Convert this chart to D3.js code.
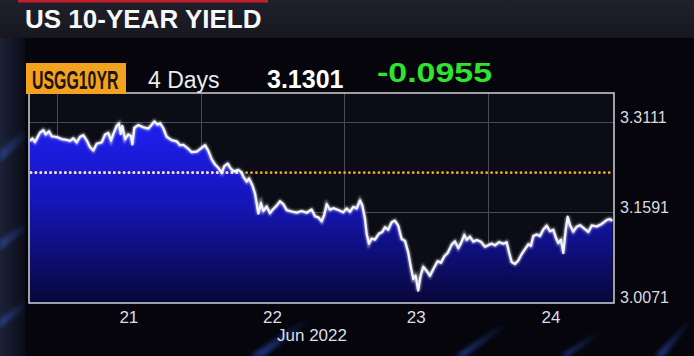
<!DOCTYPE html>
<html>
<head>
<meta charset="utf-8">
<script src="https://cdn.jsdelivr.net/npm/d3@7"></script>
<style>
  html, body { margin: 0; padding: 0; background: #06060c; }
  #mydiv { width: 694px; height: 356px; overflow: hidden; }
</style>
</head>
<body>
<div id="mydiv"></div>
<script>
// hours after 21 Jun 2022 00:00
const hours = [
  -4.51,-4.12,-3.68,-2.84,-2.29,-1.89,-1.34,-0.89,-0.05,0.79,1.62,2.17,2.72,3.29,3.84,4.39,4.96,5.51,6.07,
  6.63,7.47,8.02,8.57,9.02,9.41,9.98,10.36,10.64,10.91,11.36,11.91,12.36,12.58,12.92,13.58,14.42,15.25,15.82,
  16.25,16.82,17.21,17.76,18.32,19.16,20.00,
  20.55,21.10,21.94,22.50,23.34,23.89,24.73,25.28,25.85,26.40,26.95,27.52,27.95,28.52,29.07,29.62,30.29,30.86,
  31.12,31.69,32.08,32.63,33.08,33.36,33.63,34.08,34.46,35.03,35.58,36.13,36.70,37.25,37.80,38.37,39.20,40.04,
  40.87,41.71,42.54,43.10,43.65,44.22,44.65,45.05,45.60,46.15,46.99,47.82,48.39,48.94,49.49,50.06,50.61,51.00,
  51.45,51.73,52.11,
  52.56,53.11,53.78,54.33,54.78,55.33,55.90,56.45,57.00,57.57,58.12,58.67,59.12,59.51,59.91,60.34,60.74,61.18,
  61.75,62.30,62.85,63.59,64.14,64.70,65.26,65.93,66.48,67.03,67.49,68.04,68.44,68.99,69.54,70.11,70.83,71.50,
  72.05,72.62,73.17,73.84,74.55,75.12,75.51,75.96,76.51,77.06,77.63,78.18,78.73,79.18,79.57,80.13,80.68,81.24,
  81.80,82.35,82.91,83.36,83.74,84.19,84.58,84.98,85.31,85.70,86.25,86.82,87.37,88.09,88.76,89.33,90.16,91.00,
  91.83,92.38,92.77
];

const yields = [
  3.2791,3.2832,3.2773,3.2932,3.2975,3.2901,3.2956,3.2870,3.2858,3.2822,3.2809,3.2791,3.2836,3.2766,3.2861,
  3.2889,3.2802,3.2687,3.2629,3.2743,3.2768,3.2899,3.2927,3.2795,3.2908,3.3049,3.3087,3.2906,3.3047,3.2819,
  3.2903,3.2873,3.2731,3.3014,3.3059,3.3023,3.2999,3.3066,3.3122,3.3065,3.3091,3.3005,3.2862,3.2804,3.2785,
  3.2718,3.2727,3.2658,3.2601,3.2611,3.2654,3.2720,3.2624,3.2481,3.2395,3.2338,3.2252,3.2365,3.2408,3.2317,
  3.2277,3.2303,3.2258,3.2189,3.2104,3.2159,3.2044,3.1903,3.1733,3.1563,3.1744,3.1607,3.1684,3.1571,3.1643,
  3.1698,3.1772,3.1725,3.1623,3.1599,3.1581,3.1607,3.1578,3.1633,3.1519,3.1501,3.1432,3.1545,3.1725,3.1628,
  3.1656,3.1626,3.1585,3.1652,3.1594,3.1678,3.1650,3.1789,3.1704,3.1478,3.1225,3.1055,
  3.1143,3.1125,3.1226,3.1252,3.1335,3.1291,3.1418,3.1446,3.1361,3.1136,3.1107,3.0909,3.0656,3.0460,3.0515,
  3.0262,3.0514,3.0665,3.0597,3.0512,3.0624,3.0762,3.0733,3.0845,3.0900,3.1040,3.1095,3.0981,3.1065,3.1205,
  3.1120,3.1175,3.1090,3.1117,3.1088,3.1003,3.1031,3.1057,3.1029,3.1083,3.1054,3.1081,3.0912,3.0744,3.0714,
  3.0771,3.0881,3.0963,3.1046,3.1019,3.1186,3.1212,3.1184,3.1294,3.1360,3.1265,3.1291,3.1151,3.1067,3.1121,
  3.0898,3.1288,3.1512,3.1370,3.1259,3.1342,3.1368,3.1311,3.1255,3.1364,3.1346,3.1390,3.1456,3.1472,3.1442
];

const yTicks = [3.0071, 3.1591, 3.3111];
const dayLabels = ['21', '22', '23', '24'];
const monthLabel = 'Jun 2022';
const prevClose = 3.2256;

const title = 'US 10-YEAR YIELD';
const ticker = 'USGG10YR';
const period = '4 Days';
const lastPrice = '3.1301';
const netChange = '-0.0955';

const t0 = new Date(2022, 5, 21);
const hToDate = h => new Date(t0.getTime() + h * 3600e3);
const data = hours.map((h, i) => ({ t: hToDate(h), v: yields[i] }));

// plot box
const L = 29, R = 614, T = 93, B = 303;
const font = "'Liberation Sans', Arial, Helvetica, sans-serif";

const svg = d3.select('#mydiv')
  .append('svg')
  .attr('width', 694)
  .attr('height', 356)
  .style('display', 'block');

const defs = svg.append('defs');

const bandGrad = defs.append('linearGradient')
  .attr('id', 'band').attr('x1', 0).attr('x2', 0).attr('y1', 0).attr('y2', 1);
bandGrad.append('stop').attr('offset', '0%').attr('stop-color', '#20202c');
bandGrad.append('stop').attr('offset', '100%').attr('stop-color', '#17171f');

const leftGrad = defs.append('linearGradient')
  .attr('id', 'leftside').attr('x1', 0).attr('x2', 1).attr('y1', 0).attr('y2', 0);
leftGrad.append('stop').attr('offset', '0%').attr('stop-color', '#1c2136');
leftGrad.append('stop').attr('offset', '100%').attr('stop-color', '#0b0d18');

const streakGrad = defs.append('linearGradient')
  .attr('id', 'streak').attr('x1', 0).attr('x2', 0).attr('y1', 1).attr('y2', 0);
streakGrad.append('stop').attr('offset', '0%').attr('stop-color', '#3a6cff').attr('stop-opacity', 0.5);
streakGrad.append('stop').attr('offset', '100%').attr('stop-color', '#3a6cff').attr('stop-opacity', 0);

const fillGrad = defs.append('linearGradient')
  .attr('id', 'fill').attr('gradientUnits', 'userSpaceOnUse')
  .attr('x1', 0).attr('x2', 0).attr('y1', 122).attr('y2', B);
fillGrad.append('stop').attr('offset', '0%').attr('stop-color', '#1f1ff2');
fillGrad.append('stop').attr('offset', '45%').attr('stop-color', '#1515b8');
fillGrad.append('stop').attr('offset', '100%').attr('stop-color', '#07073a');

defs.append('filter').attr('id', 'glow')
  .append('feGaussianBlur').attr('stdDeviation', 1.3);

defs.append('filter').attr('id', 'soft')
  .attr('x', '-50%').attr('y', '-50%').attr('width', '200%').attr('height', '200%')
  .append('feGaussianBlur').attr('stdDeviation', 2);

defs.append('clipPath').attr('id', 'plotclip')
  .append('rect').attr('x', L).attr('y', T).attr('width', R - L).attr('height', B - T);

// studio background
svg.append('rect').attr('width', 694).attr('height', 356).attr('fill', '#05050b');
svg.append('rect').attr('width', 694).attr('height', 38).attr('fill', 'url(#band)');
svg.append('rect').attr('x', 18).attr('y', 0).attr('width', 250).attr('height', 2.5).attr('fill', '#c3202c');
svg.append('rect').attr('x', 0).attr('y', 38).attr('width', 25).attr('height', 318).attr('fill', 'url(#leftside)');

const streaks = [
  [[0, 150], [25, 128], [25, 138], [0, 162]],
  [[0, 240], [25, 222], [25, 230], [0, 250]],
  [[0, 318], [25, 300], [25, 307], [0, 328]],
  [[250, 356], [305, 318], [314, 318], [264, 356]],
  [[455, 356], [505, 322], [512, 322], [465, 356]],
  [[560, 356], [600, 330], [606, 330], [568, 356]],
  [[655, 356], [690, 318], [694, 318], [664, 356]]
];
svg.append('g')
  .attr('filter', 'url(#soft)')
  .selectAll('polygon')
  .data(streaks).enter()
  .append('polygon')
  .attr('points', d => d.map(p => p.join(',')).join(' '))
  .attr('fill', 'url(#streak)');

// scales
const x = d3.scaleTime()
  .domain([hToDate(-4.68), hToDate(93.05)])
  .range([L, R]);

const y = d3.scaleLinear()
  .domain([yTicks[0], yTicks[2]])
  .range([302, 122]);

// plot background and grid
svg.append('rect')
  .attr('x', L).attr('y', T).attr('width', R - L).attr('height', B - T)
  .attr('fill', '#0c0c16');

const days = d3.timeDay.range(x.domain()[0], x.domain()[1]);

const grid = svg.append('g').attr('stroke', '#4b4b57').attr('stroke-width', 1);
grid.selectAll('.vgrid')
  .data(days).enter()
  .append('line')
  .attr('class', 'vgrid')
  .attr('x1', d => Math.round(x(d)) + 0.5).attr('x2', d => Math.round(x(d)) + 0.5)
  .attr('y1', T).attr('y2', B);
grid.selectAll('.hgrid')
  .data(yTicks.slice(1)).enter()
  .append('line')
  .attr('class', 'hgrid')
  .attr('x1', L).attr('x2', R)
  .attr('y1', d => Math.round(y(d)) + 0.5).attr('y2', d => Math.round(y(d)) + 0.5);

// area + line
const area = d3.area()
  .x(d => x(d.t))
  .y0(B)
  .y1(d => y(d.v));

const line = d3.line()
  .x(d => x(d.t))
  .y(d => y(d.v));

const plot = svg.append('g').attr('clip-path', 'url(#plotclip)');

plot.append('path')
  .datum(data)
  .attr('d', area)
  .attr('fill', 'url(#fill)');

defs.append('clipPath').attr('id', 'areaclip')
  .append('path').datum(data).attr('d', area);

// previous close, dotted: orange over dark, pale over the blue fill
const dots = plot.append('g');
dots.append('line')
  .attr('x1', L + 2).attr('x2', R - 1)
  .attr('y1', y(prevClose)).attr('y2', y(prevClose))
  .attr('stroke', '#f7a824')
  .attr('stroke-width', 2.8)
  .attr('stroke-linecap', 'round')
  .attr('stroke-dasharray', '0 4.9');
dots.append('line')
  .attr('clip-path', 'url(#areaclip)')
  .attr('x1', L + 2).attr('x2', R - 1)
  .attr('y1', y(prevClose)).attr('y2', y(prevClose))
  .attr('stroke', '#f6dcf6')
  .attr('stroke-width', 2.8)
  .attr('stroke-linecap', 'round')
  .attr('stroke-dasharray', '0 4.9');

plot.append('path')
  .datum(data)
  .attr('d', line)
  .attr('fill', 'none')
  .attr('stroke', '#ffffff')
  .attr('stroke-opacity', 0.6)
  .attr('stroke-width', 3.6)
  .attr('filter', 'url(#glow)');

plot.append('path')
  .datum(data)
  .attr('d', line)
  .attr('fill', 'none')
  .attr('stroke', '#f4f4ff')
  .attr('stroke-width', 2.2)
  .attr('stroke-linejoin', 'round');

// frame
svg.append('rect')
  .attr('x', L).attr('y', T).attr('width', R - L).attr('height', B - T)
  .attr('fill', 'none')
  .attr('stroke', '#c6c6ce')
  .attr('stroke-width', 1.6);

// right axis
const yAxis = svg.append('g')
  .attr('transform', `translate(${R},0)`)
  .call(d3.axisRight(y).tickValues(yTicks).tickSize(0).tickPadding(6).tickFormat(d3.format('.4f')));
yAxis.select('.domain').remove();
yAxis.selectAll('text')
  .attr('dy', '0.06em')
  .attr('fill', '#dadae0')
  .style('font-family', font)
  .style('font-size', '16px');

// day labels, centred in the visible part of each day
const x0 = x.range()[0], x1 = x.range()[1];
svg.selectAll('.daylabel')
  .data(days).enter()
  .append('text')
  .attr('class', 'daylabel')
  .attr('x', d => (Math.max(x(d), x0) + Math.min(x(d3.timeDay.offset(d, 1)), x1)) / 2)
  .attr('y', 323)
  .attr('text-anchor', 'middle')
  .attr('fill', '#dcdce6')
  .style('font-family', font)
  .style('font-size', '17px')
  .text((d, i) => dayLabels[i]);

svg.append('text')
  .attr('x', 312)
  .attr('y', 341)
  .attr('text-anchor', 'middle')
  .attr('fill', '#dcdce6')
  .style('font-family', font)
  .style('font-size', '17px')
  .text(monthLabel);

// header
svg.append('text')
  .attr('x', 25).attr('y', 28)
  .attr('fill', '#f7f7f7')
  .style('font-family', font)
  .style('font-weight', 'bold')
  .style('font-size', '26px')
  .text(title);

svg.append('rect')
  .attr('x', 26).attr('y', 63).attr('width', 100).attr('height', 31)
  .attr('fill', '#f3a21f');

// ticker set in a squeezed bold face
svg.append('text')
  .attr('transform', 'translate(32,89) scale(0.635,1)')
  .attr('fill', '#1e1406')
  .style('font-family', font)
  .style('font-weight', 'bold')
  .style('font-size', '25px')
  .text(ticker);

svg.append('text')
  .attr('x', 148).attr('y', 88)
  .attr('fill', '#ececec')
  .style('font-family', font)
  .style('font-size', '23px')
  .text(period);

svg.append('text')
  .attr('x', 267).attr('y', 88)
  .attr('fill', '#ffffff')
  .style('font-family', font)
  .style('font-weight', 'bold')
  .style('font-size', '25px')
  .text(lastPrice);

svg.append('text')
  .attr('x', 377).attr('y', 82)
  .attr('fill', '#2fe42f')
  .attr('textLength', 115)
  .attr('lengthAdjust', 'spacingAndGlyphs')
  .style('font-family', font)
  .style('font-weight', 'bold')
  .style('font-size', '28px')
  .text(netChange);
</script>
</body>
</html>
